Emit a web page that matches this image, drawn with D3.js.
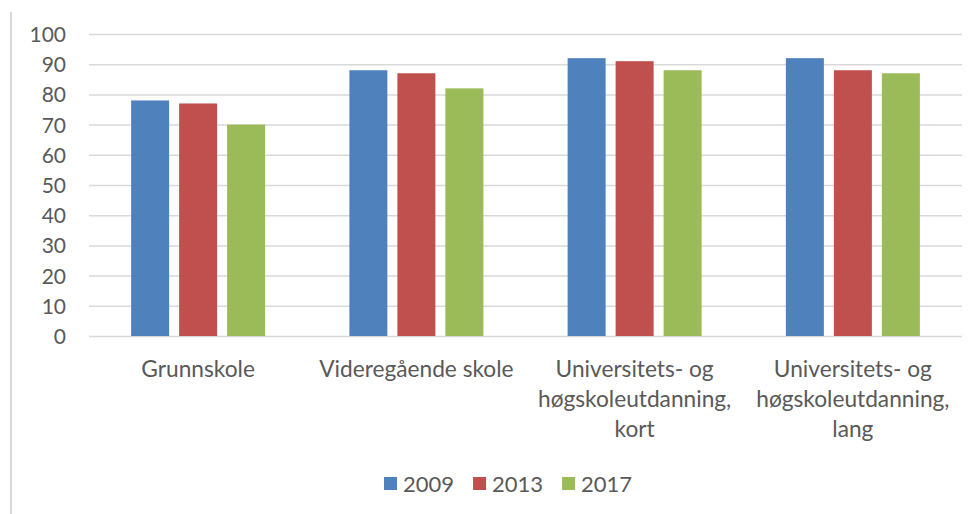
<!DOCTYPE html>
<html>
<head>
<meta charset="utf-8">
<script src="https://cdn.jsdelivr.net/npm/d3@7"></script>
<style>
  body { margin: 0; background: #fff; }
  text { font-family: Lato, "Open Sans", sans-serif; fill: #595959; }
</style>
</head>
<body>
<div id="chart"></div>
<script>
// data
var categories = ["Grunnskole", "Videregående skole", "Universitets- og høgskoleutdanning, kort", "Universitets- og høgskoleutdanning, lang"];
var categoryLines = [["Grunnskole"], ["Videregående skole"], ["Universitets- og", "høgskoleutdanning,", "kort"], ["Universitets- og", "høgskoleutdanning,", "lang"]];
var years = ["2009", "2013", "2017"];
var values2009 = [78, 88, 92, 92];
var values2013 = [77, 87, 91, 88];
var values2017 = [70, 82, 88, 87];
var yTicks = [0, 10, 20, 30, 40, 50, 60, 70, 80, 90, 100];
var colors = ["#4f81bd", "#c0504d", "#9bbb59"];

var series = [values2009, values2013, values2017];

function init() {
    var w = 979, h = 514;
    var plot = { left: 89, right: 962, top: 34, bottom: 336 };

    var svg = d3.select("#chart").append("svg")
        .attr("width", w)
        .attr("height", h);

    // left frame line
    svg.append("line")
        .attr("x1", 11).attr("x2", 11)
        .attr("y1", 12).attr("y2", h)
        .attr("stroke", "#d9d9d9")
        .attr("stroke-width", 2);

    var y = d3.scaleLinear()
        .domain([0, 100])
        .range([plot.bottom, plot.top]);

    var x0 = d3.scaleBand()
        .domain(categories)
        .range([plot.left, plot.right])
        .padding(0);

    var groupWidth = 134;
    var x1 = d3.scaleBand()
        .domain(years)
        .range([0, groupWidth])
        .paddingInner(0.2083)
        .paddingOuter(0);

    // gridlines
    var grid = svg.append("g")
        .attr("transform", "translate(" + plot.left + ",0)")
        .call(d3.axisLeft(y).tickValues(yTicks).tickSize(-(plot.right - plot.left)).tickFormat(""));
    grid.select(".domain").remove();
    grid.selectAll(".tick line")
        .attr("stroke", "#d9d9d9")
        .attr("stroke-width", 1.5);

    // y tick labels
    var yAxis = svg.append("g")
        .attr("transform", "translate(66,0)")
        .call(d3.axisLeft(y).tickValues(yTicks).tickSize(0).tickPadding(0));
    yAxis.select(".domain").remove();
    yAxis.selectAll("text")
        .style("font-size", "21px")
        .attr("fill", "#595959")
        .attr("dy", "0.36em");

    // bars
    var groups = svg.selectAll(".group")
        .data(categories)
        .join("g")
        .attr("class", "group")
        .attr("transform", function (d) {
            return "translate(" + (x0(d) + x0.bandwidth() / 2 - groupWidth / 2) + ",0)";
        });

    groups.selectAll("rect")
        .data(function (d, i) {
            return years.map(function (yr, j) { return { year: yr, value: series[j][i], idx: j }; });
        })
        .join("rect")
        .attr("x", function (d) { return x1(d.year); })
        .attr("width", x1.bandwidth())
        .attr("y", function (d) { return y(d.value); })
        .attr("height", function (d) { return y(0) - y(d.value); })
        .attr("fill", function (d) { return colors[d.idx]; });

    // category labels
    var xAxis = svg.append("g")
        .attr("transform", "translate(0," + plot.bottom + ")")
        .call(d3.axisBottom(x0).tickSize(0).tickFormat(""));
    xAxis.select(".domain").remove();
    xAxis.selectAll(".tick").each(function (d, i) {
        var t = d3.select(this).append("text")
            .attr("text-anchor", "middle")
            .style("font-size", "22.7px")
            .attr("fill", "#595959");
        categoryLines[i].forEach(function (line, k) {
            t.append("tspan")
                .attr("x", 0)
                .attr("y", 41 + k * 30)
                .text(line);
        });
    });

    // legend
    var legend = svg.append("g").attr("class", "legend");
    var lx = 384;
    years.forEach(function (yr, j) {
        var item = legend.append("g").attr("transform", "translate(" + lx + ",0)");
        item.append("rect")
            .attr("x", 0).attr("y", 477)
            .attr("width", 13).attr("height", 13)
            .attr("fill", colors[j]);
        var t = item.append("text")
            .attr("x", 19).attr("y", 492)
            .style("font-size", "22px")
            .text(yr);
        lx += 19 + t.node().getComputedTextLength() + 19;
    });
}

window.onload = init;
</script>
</body>
</html>
